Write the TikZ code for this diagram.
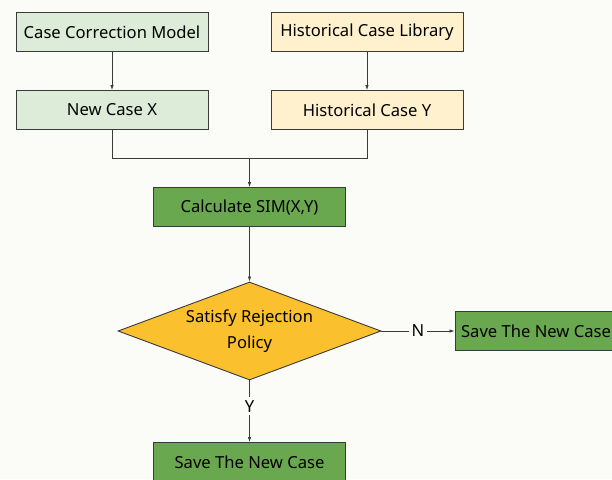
\documentclass[tikz,border=0pt]{standalone}
\usepackage{fontspec}
\setmainfont{Noto Sans}
\usetikzlibrary{shapes.geometric,arrows.meta,positioning}
\definecolor{bgpaper}{HTML}{FBFBF7}
\definecolor{lightgreen}{HTML}{DCECD8}
\definecolor{lightorange}{HTML}{FFF1CD}
\definecolor{midgreen}{HTML}{6AA84F}
\definecolor{gold}{HTML}{FBC02D}
\definecolor{edge}{HTML}{3A3A3A}

\begin{document}
\begin{tikzpicture}[x=1pt,y=-1pt,
    box/.style={draw=edge,line width=0.9pt,minimum width=192pt,minimum height=39pt,
      inner sep=0pt,font=\fontsize{16.6}{19}\selectfont,text=black},
    modelbox/.style={box,fill=lightgreen},
    librarybox/.style={box,fill=lightorange},
    actionbox/.style={box,fill=midgreen},
    decision/.style={diamond,draw=edge,line width=0.9pt,fill=gold,aspect=2.68,
      minimum width=263pt,minimum height=98pt,inner sep=0pt,align=center,
      font=\fontsize{16.6}{26}\selectfont},
    link/.style={draw=edge,line width=0.8pt},
    arrow/.style={link,-{Latex[length=5pt,width=3.5pt]}},
    tag/.style={fill=bgpaper,inner sep=3pt,font=\fontsize{16.6}{19}\selectfont}]
  \clip (0,0) rectangle (612,479);
  \fill[bgpaper] (0,0) rectangle (612,479);

  \node[modelbox](model) at (112,32){Case Correction Model};
  \node[librarybox](library) at (367,32){Historical Case Library};
  \node[modelbox](newcase) at (112,110){New Case X};
  \node[librarybox](histcase) at (367,110){Historical Case Y};
  \node[actionbox](calc) at (249.5,207){Calculate SIM(X,Y)};
  \node[decision](policy) at (249.5,331){Satisfy Rejection\\Policy};
  \node[actionbox,minimum width=162pt](saveright) at (536,331){Save The New Case};
  \node[actionbox](savedown) at (249.5,462){Save The New Case};

  \coordinate (merge) at (249.5,158);

  \draw[arrow] (model) -- (newcase);
  \draw[arrow] (library) -- (histcase);
  \draw[link] (newcase.south) |- (merge);
  \draw[link] (histcase.south) |- (merge);
  \draw[arrow] (merge) -- (calc);
  \draw[arrow] (calc) -- (policy);
  \draw[arrow] (policy) -- node[tag]{N} (saveright);
  \draw[arrow] (policy) -- node[tag,pos=0.42]{Y} (savedown);
\end{tikzpicture}
\end{document}
